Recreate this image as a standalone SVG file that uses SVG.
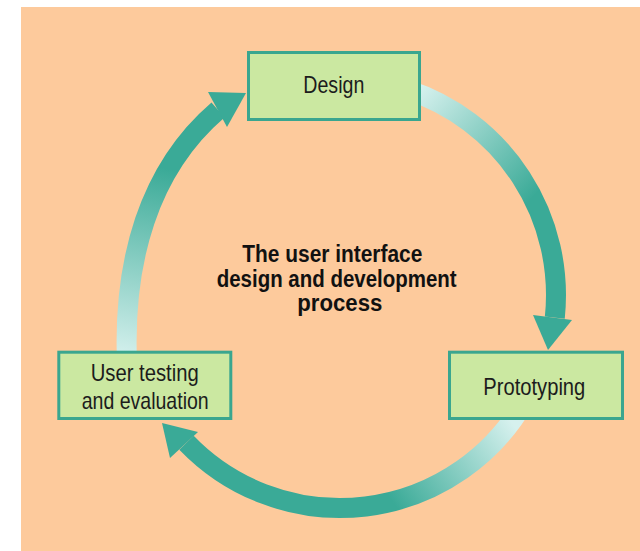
<svg xmlns="http://www.w3.org/2000/svg" width="640" height="551" viewBox="0 0 640 551">
  <style>
    .box { fill: #cbe8a1; stroke: #3aa68f; stroke-width: 3; }
    .lbl { font-family: "Liberation Sans", Arial, sans-serif; font-size: 24px; fill: #1c1c1c; }
    .ttl { font-family: "Liberation Sans", Arial, sans-serif; font-size: 23.5px; font-weight: bold; fill: #111; }
    .arc { fill: none; stroke-width: 20; stroke-linecap: butt; }
    .head { fill: #3aaa97; }
  </style>
  <defs>
    <linearGradient id="g1" gradientUnits="userSpaceOnUse" x1="420" y1="88" x2="535" y2="195">
      <stop offset="0" stop-color="#d6f1ee"/>
      <stop offset="1" stop-color="#3aaa97"/>
    </linearGradient>
    <linearGradient id="g2" gradientUnits="userSpaceOnUse" x1="510" y1="420" x2="395" y2="505">
      <stop offset="0" stop-color="#d6f1ee"/>
      <stop offset="1" stop-color="#3aaa97"/>
    </linearGradient>
    <linearGradient id="g3" gradientUnits="userSpaceOnUse" x1="127" y1="360" x2="165" y2="168">
      <stop offset="0" stop-color="#d6f1ee"/>
      <stop offset="1" stop-color="#3aaa97"/>
    </linearGradient>
  </defs>
  <rect x="21" y="7" width="619" height="544" fill="#fdca9c"/>
  <g id="connectors">
    <path class="arc" stroke="url(#g1)" d="M406.7,89.6 A216,216 0 0 1 554.8,317.6"/>
    <polygon class="head" points="533,315 572,320 548,350"/>
    <path class="arc" stroke="url(#g2)" d="M524.5,401.5 A213,213 0 0 1 186.5,442.7"/>
    <polygon class="head" points="162,423 198,432 170,458"/>
    <path class="arc" stroke="url(#g3)" d="M127,362 C123,262 148,170 218,110"/>
    <polygon class="head" points="208,92 246,93 227,127"/>
  </g>
  <g id="node-design">
    <rect class="box" x="248.5" y="52.5" width="171" height="67"/>
    <text class="lbl" x="303.3" y="92.5" textLength="61" lengthAdjust="spacingAndGlyphs">Design</text>
  </g>
  <g id="node-prototyping">
    <rect class="box" x="449.5" y="352.2" width="173" height="66.3"/>
    <text class="lbl" x="483.3" y="395" textLength="102" lengthAdjust="spacingAndGlyphs">Prototyping</text>
  </g>
  <g id="node-testing">
    <rect class="box" x="58.8" y="352.2" width="172" height="66.3"/>
    <text class="lbl" x="90.7" y="380.7" textLength="108" lengthAdjust="spacingAndGlyphs">User testing</text>
    <text class="lbl" x="81.7" y="409" textLength="127" lengthAdjust="spacingAndGlyphs">and evaluation</text>
  </g>
  <g id="title">
    <text class="ttl" x="242.3" y="262.3" textLength="180" lengthAdjust="spacingAndGlyphs">The user interface</text>
    <text class="ttl" x="216.7" y="286.7" textLength="240" lengthAdjust="spacingAndGlyphs">design and development</text>
    <text class="ttl" x="297.3" y="310.5" textLength="85" lengthAdjust="spacingAndGlyphs">process</text>
  </g>
</svg>
